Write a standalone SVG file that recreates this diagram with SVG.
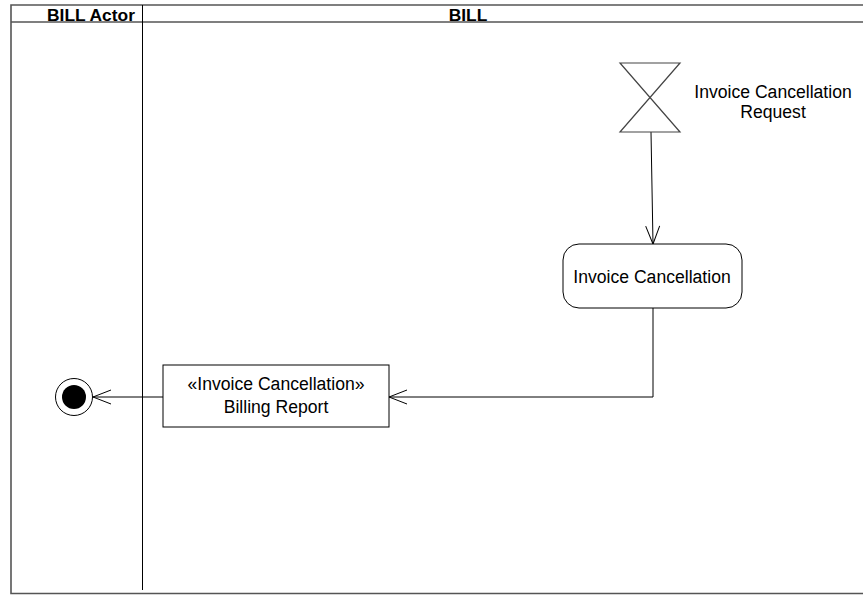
<svg xmlns="http://www.w3.org/2000/svg" width="863" height="597" viewBox="0 0 863 597">
<style>
text{font-family:"Liberation Sans",Arial,sans-serif;font-size:17.6px;fill:#000}
.hdr{font-weight:bold;text-anchor:middle;font-size:17.4px}
.lbl{text-anchor:middle}
.frame{fill:none;stroke:#555;stroke-width:1.6}
.edge{fill:none;stroke:#000;stroke-width:1}
.shape{fill:#fff;stroke:#000;stroke-width:1}
</style>
<defs>
<marker id="open" markerUnits="userSpaceOnUse" markerWidth="22" markerHeight="18" viewBox="-20 -9 22 18" refX="0" refY="0" orient="auto">
<path d="M-18,-7 L0,0 L-18,7" fill="none" stroke="#000" stroke-width="1"/>
</marker>
</defs>
<rect width="863" height="597" fill="#fff"/>
<g id="swimlanes">
<path class="frame" d="M870,5 H11 V593.5 H870"/>
<line x1="11" y1="22" x2="870" y2="22" stroke="#555" stroke-width="1.6"/>
<line x1="142.5" y1="5" x2="142.5" y2="590" stroke="#000" stroke-width="1"/>
<text class="hdr" x="91" y="20.5">BILL Actor</text>
<text class="hdr" x="468" y="20.5">BILL</text>
</g>
<g id="connectors">
<line class="edge" x1="651" y1="132" x2="653" y2="244" marker-end="url(#open)"/>
<polyline class="edge" points="653,308 653,397 389,397" marker-end="url(#open)"/>
<line class="edge" x1="163" y1="397" x2="93" y2="397" marker-end="url(#open)"/>
</g>
<g id="request">
<path d="M620,63 L680,63 L620,132 L680,132 Z" fill="#fff" stroke="#444" stroke-width="1.2"/>
<text class="lbl" x="773" y="98">Invoice Cancellation</text>
<text class="lbl" x="773" y="118">Request</text>
</g>
<g id="invoice-cancellation">
<rect class="shape" x="563" y="244" width="179" height="64" rx="16" ry="16"/>
<text class="lbl" x="652" y="283">Invoice Cancellation</text>
</g>
<g id="billing-report">
<rect class="shape" x="163" y="365" width="226" height="62"/>
<text class="lbl" x="276" y="390">«Invoice Cancellation»</text>
<text class="lbl" x="276" y="413">Billing Report</text>
</g>
<g id="final">
<circle cx="74" cy="397" r="18.5" fill="#fff" stroke="#000" stroke-width="1"/>
<circle cx="74" cy="397" r="12" fill="#000"/>
</g>
</svg>
